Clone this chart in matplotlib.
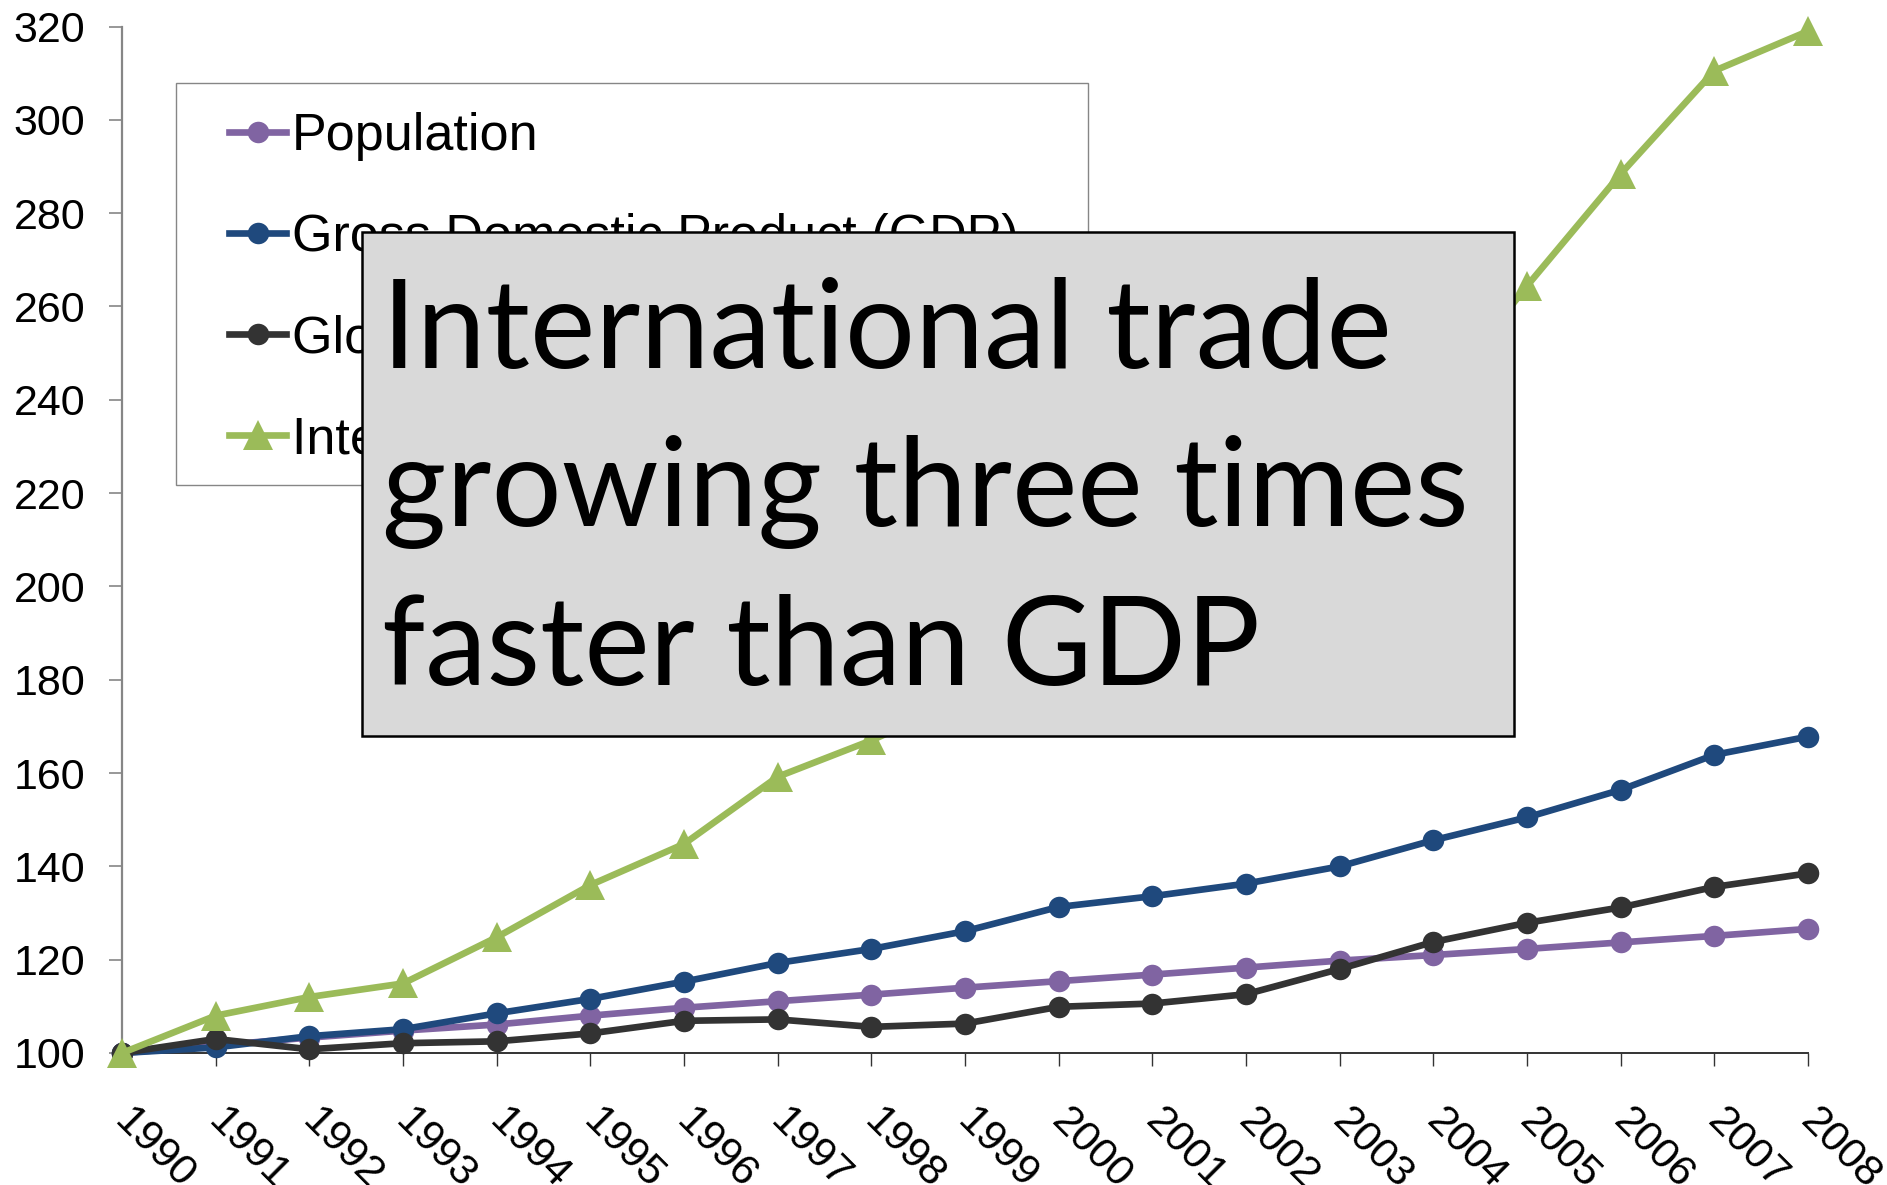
import matplotlib
matplotlib.use("Agg")
import matplotlib.pyplot as plt
from matplotlib.patches import Rectangle
from matplotlib.transforms import ScaledTranslation

# Index values, 1990 = 100
years = list(range(1990, 2009))
population = [100, 101.6, 103.3, 104.8, 106.1, 108.0, 109.7, 111.1, 112.5, 114.0,
              115.4, 116.8, 118.3, 119.8, 121.0, 122.3, 123.7, 125.1, 126.6]
gdp = [100, 101.2, 103.6, 105.1, 108.5, 111.6, 115.3, 119.3, 122.3, 126.1,
       131.3, 133.6, 136.3, 140.0, 145.6, 150.5, 156.4, 163.9, 167.8]
materials = [100, 103.0, 100.8, 102.1, 102.5, 104.2, 106.9, 107.2, 105.6, 106.3,
             109.9, 110.6, 112.6, 118.0, 123.8, 127.9, 131.2, 135.6, 138.5]
trade = [100, 108.0, 112.0, 114.9, 124.8, 136.0, 144.8, 159.2, 167.0, 176.0,
         196.0, 196.0, 205.0, 217.0, 239.0, 264.4, 288.4, 310.5, 319.0]

series_labels = ["Population", "Gross Domestic Product (GDP)",
                 "Global Material Extraction", "International Trade"]
series_colors = ["#8064A2", "#1F497D", "#333333", "#9BBB59"]
series_markers = ["o", "o", "o", "^"]
y_ticks = list(range(100, 321, 20))
callout = ["International trade", "growing three times", "faster than GDP"]

W, H = 1887, 1185
fig = plt.figure(figsize=(W / 100, H / 100), dpi=100)
fig.patch.set_facecolor("white")

def fx(px):
    return px / W

def fy(py):
    return 1 - py / H

ax = fig.add_axes([fx(122), fy(1053), fx(1808) - fx(122), fy(26.5) - fy(1053)])
ax.set_xlim(1990, 2008)
ax.set_ylim(100, 320)

lines = []
for vals, lab, col, mk in zip([population, gdp, materials, trade], series_labels,
                              series_colors, series_markers):
    ms = 21 if mk == "^" else 15.5
    ln, = ax.plot(years, vals, color=col, lw=4.8, marker=mk, ms=ms,
                  markeredgewidth=0, label=lab, clip_on=False, zorder=3)
    lines.append(ln)

for s in ["top", "right"]:
    ax.spines[s].set_visible(False)
ax.spines["left"].set_color("#868686")
ax.spines["left"].set_linewidth(1.6)
ax.spines["bottom"].set_color("#333333")
ax.spines["bottom"].set_linewidth(1.4)

ax.set_yticks(y_ticks)
ax.set_yticklabels([str(v) for v in y_ticks], fontfamily="Liberation Sans", fontsize=31)
ax.tick_params(axis="y", direction="out", length=9.5, width=1.2, color="#868686", pad=17)

ax.set_xticks(years)
ax.set_xticklabels([str(y) for y in years], fontfamily="Liberation Sans", fontsize=31)
ax.tick_params(axis="x", direction="out", length=9.5, width=1.0, color="#333333", pad=22)
shift = ScaledTranslation(0.13, -0.04, fig.dpi_scale_trans)
for lbl in ax.get_xticklabels():
    lbl.set_rotation(-45)
    lbl.set_ha("left")
    lbl.set_va("top")
    lbl.set_rotation_mode("anchor")
    lbl.set_transform(lbl.get_transform() + shift)

# Legend box with a white background and thin grey frame
ax.add_patch(Rectangle((fx(176), fy(485)), fx(1088) - fx(176), fy(83) - fy(485),
                       transform=fig.transFigure, facecolor="white",
                       edgecolor="#868686", lw=1.0, clip_on=False, zorder=4))
leg = ax.legend(handles=lines, loc="upper left", bbox_to_anchor=(fx(229), fy(112)),
                bbox_transform=fig.transFigure, frameon=False, borderpad=0,
                borderaxespad=0, handlelength=1.1, handletextpad=0.1,
                labelspacing=1.0, prop={"family": "Liberation Sans", "size": 37.5})
leg.set_zorder(5)

# Grey callout box over the chart
fig.add_artist(Rectangle((fx(362), fy(736)), fx(1514) - fx(362), fy(232) - fy(736),
                         transform=fig.transFigure, facecolor="#D9D9D9",
                         edgecolor="black", lw=1.8, zorder=10))
for i, line in enumerate(callout):
    fig.text(fx(382), fy(367 + 159 * i), line, fontfamily="Lato", fontsize=89,
             ha="left", va="baseline", color="black", zorder=11)

fig.savefig("out.png", dpi=100)
